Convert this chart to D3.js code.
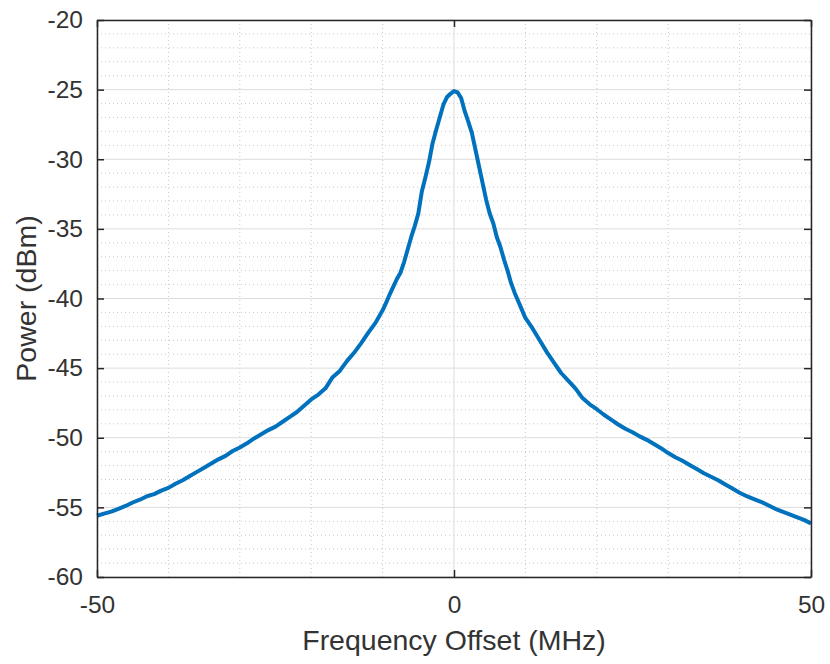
<!DOCTYPE html>
<html>
<head>
<meta charset="utf-8">
<script src="https://cdn.jsdelivr.net/npm/d3@7"></script>
<style>
  html, body { margin: 0; padding: 0; background: #fff; }
  svg { display: block; font-family: "Liberation Sans", Arial, Helvetica, sans-serif; }
</style>
</head>
<body>
<svg id="chart" width="830" height="664"></svg>
<script>
// Measured spectrum around the carrier: frequency offset (MHz) and power (dBm)
const freqMHz = [
  -50, -49, -48, -47, -46, -45, -44, -43, -42, -41,
  -40, -39, -38, -37, -36, -35, -34, -33, -32, -31,
  -30, -29, -28, -27, -26, -25, -24, -23, -22, -21,
  -20, -19, -18, -17, -16, -15, -14, -13, -12, -11,
  -10, -9.5, -9, -8.5, -8, -7.5, -7, -6.5, -6, -5.5,
  -5, -4.5, -4, -3.5, -3, -2.5, -2, -1.5, -1, -0.5,
  0, 0.5, 1, 1.5, 2, 2.5, 3, 3.5, 4, 4.5,
  5, 5.5, 6, 6.5, 7, 7.5, 8, 8.5, 9, 9.5,
  10, 11, 12, 13, 14, 15, 16, 17, 18, 19,
  20, 21, 22, 23, 24, 25, 26, 27, 28, 29,
  30, 31, 32, 33, 34, 35, 36, 37, 38, 39,
  40, 41, 42, 43, 44, 45, 46, 47, 48, 49, 50
];
const powerDBm = [
  -55.6, -55.45, -55.3, -55.1, -54.9, -54.65, -54.45, -54.2, -54.05, -53.8,
  -53.6, -53.3, -53.05, -52.75, -52.45, -52.15, -51.85, -51.55, -51.3, -50.95,
  -50.7, -50.4, -50.05, -49.75, -49.45, -49.2, -48.85, -48.5, -48.15, -47.7,
  -47.25, -46.9, -46.45, -45.65, -45.2, -44.5, -43.9, -43.2, -42.45, -41.75,
  -40.85, -40.3, -39.7, -39.15, -38.6, -38.15, -37.4, -36.5, -35.6, -34.8,
  -33.9, -32.3, -31.3, -30.2, -28.85, -27.9, -27.0, -26.1, -25.55, -25.3,
  -25.1, -25.2, -25.6, -26.55, -27.3, -28.1, -29.3, -30.5, -31.7, -32.9,
  -33.9, -34.6, -35.6, -36.3, -37.2, -38.0, -38.9, -39.6, -40.2, -40.8,
  -41.4, -42.15, -43.0, -43.85, -44.6, -45.35, -45.9, -46.45, -47.15, -47.6,
  -47.95, -48.35, -48.7, -49.05, -49.35, -49.6, -49.9, -50.15, -50.45, -50.75,
  -51.1, -51.4, -51.65, -51.95, -52.25, -52.55, -52.8, -53.05, -53.35, -53.65,
  -53.95, -54.2, -54.4, -54.6, -54.85, -55.1, -55.3, -55.5, -55.7, -55.9, -56.15
];

const xTicks = [-50, 0, 50];
const yTicks = [-60, -55, -50, -45, -40, -35, -30, -25, -20];
const xMinor = d3.range(-50, 51, 10);
const yMinor = d3.range(-60, -19, 1);

const margin = { left: 97, right: 19, top: 20, bottom: 87 };
const W = 830, H = 664;
const pw = W - margin.left - margin.right;
const ph = H - margin.top - margin.bottom;

const svg = d3.select("#chart");
const g = svg.append("g").attr("transform", `translate(${margin.left},${margin.top})`);

const x = d3.scaleLinear().domain([-50, 50]).range([0, pw]);
const y = d3.scaleLinear().domain([-60, -20]).range([ph, 0]);

// minor grid (dotted)
g.append("g").selectAll("line")
  .data(xMinor.filter(v => !xTicks.includes(v)))
  .join("line")
  .attr("x1", d => x(d)).attr("x2", d => x(d))
  .attr("y1", 0).attr("y2", ph)
  .attr("stroke", "#c8c8c8").attr("stroke-width", 1)
  .attr("stroke-dasharray", "1,3");
g.append("g").selectAll("line")
  .data(yMinor.filter(v => !yTicks.includes(v)))
  .join("line")
  .attr("x1", 0).attr("x2", pw)
  .attr("y1", d => y(d)).attr("y2", d => y(d))
  .attr("stroke", "#c8c8c8").attr("stroke-width", 1)
  .attr("stroke-dasharray", "1,3");

// major grid (solid)
g.append("g").selectAll("line")
  .data(xTicks)
  .join("line")
  .attr("x1", d => x(d)).attr("x2", d => x(d))
  .attr("y1", 0).attr("y2", ph)
  .attr("stroke", "#dcdcdc").attr("stroke-width", 1);
g.append("g").selectAll("line")
  .data(yTicks)
  .join("line")
  .attr("x1", 0).attr("x2", pw)
  .attr("y1", d => y(d)).attr("y2", d => y(d))
  .attr("stroke", "#dcdcdc").attr("stroke-width", 1);

// spectrum trace
const pts = freqMHz.map((f, i) => [f, powerDBm[i]]);
g.append("path")
  .datum(pts)
  .attr("fill", "none")
  .attr("stroke", "#0072BD")
  .attr("stroke-width", 4)
  .attr("stroke-linejoin", "round")
  .attr("d", d3.line().x(d => x(d[0])).y(d => y(d[1])));

// axes with inward ticks on all four sides
const axisColor = "#262626";
const tickLen = 7;
function styleAxis(sel) {
  sel.select(".domain").attr("stroke", axisColor).attr("stroke-width", 1.5);
  sel.selectAll(".tick line").attr("stroke", axisColor).attr("stroke-width", 1.5);
  sel.selectAll(".tick text").attr("fill", "#333").attr("font-size", 24.5);
}

const axBottom = g.append("g").attr("transform", `translate(0,${ph})`)
  .call(d3.axisBottom(x).tickValues(xTicks).tickSizeInner(-tickLen).tickSizeOuter(0).tickPadding(19).tickFormat(d => d));
styleAxis(axBottom);

const axTop = g.append("g")
  .call(d3.axisTop(x).tickValues(xTicks).tickSizeInner(-tickLen).tickSizeOuter(0).tickFormat(""));
styleAxis(axTop);

const axLeft = g.append("g")
  .call(d3.axisLeft(y).tickValues(yTicks).tickSizeInner(-tickLen).tickSizeOuter(0).tickPadding(14).tickFormat(d => d));
styleAxis(axLeft);

const axRight = g.append("g").attr("transform", `translate(${pw},0)`)
  .call(d3.axisRight(y).tickValues(yTicks).tickSizeInner(-tickLen).tickSizeOuter(0).tickFormat(""));
styleAxis(axRight);

// axis titles
svg.append("text")
  .attr("x", margin.left + pw / 2).attr("y", 650)
  .attr("text-anchor", "middle")
  .attr("font-size", 28.5).attr("fill", "#333")
  .text("Frequency Offset (MHz)");

svg.append("text")
  .attr("transform", `translate(36,${margin.top + ph / 2}) rotate(-90)`)
  .attr("text-anchor", "middle")
  .attr("font-size", 28.5).attr("fill", "#333")
  .text("Power (dBm)");
</script>
</body>
</html>
